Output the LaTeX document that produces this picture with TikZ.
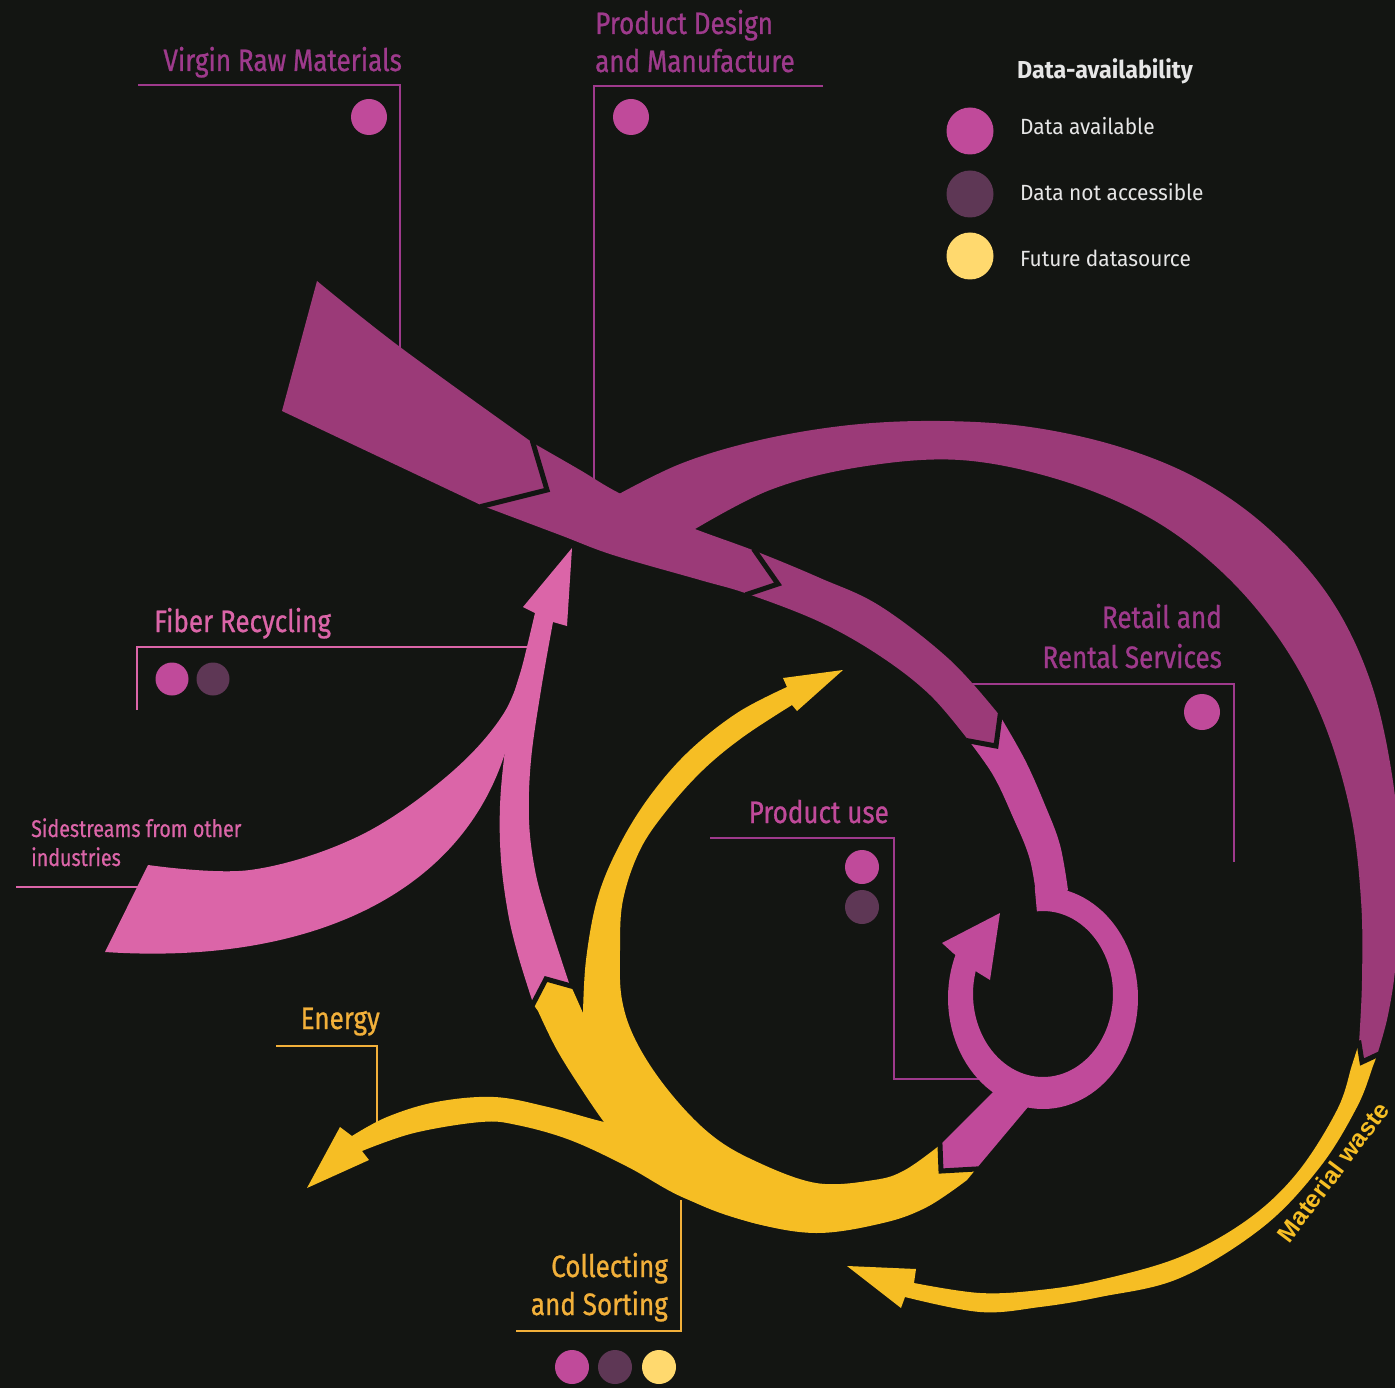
\documentclass[tikz,border=0pt]{standalone}
\usepackage{fontspec}
\setmainfont{Fira Sans}
\newfontfamily\labfont{Fira Sans}[FakeStretch=0.84, FakeBold=0.8]
\newfontfamily\sidefont{Fira Sans}[FakeStretch=0.82, FakeBold=0.6]
\newfontfamily\legfont{Fira Sans}[FakeStretch=0.95]
\newfontfamily\wastefont{Liberation Sans}

\definecolor{bg}{RGB}{19,21,18}
\definecolor{dmag}{RGB}{155,58,120}
\definecolor{pmag}{RGB}{192,74,154}
\definecolor{pinkflow}{RGB}{219,101,168}
\definecolor{yel}{RGB}{246,190,36}
\definecolor{dotdark}{RGB}{94,55,85}
\definecolor{dotfut}{RGB}{255,217,110}
\definecolor{labpurple}{RGB}{158,58,140}
\definecolor{laborange}{RGB}{242,176,58}
\definecolor{legtext}{RGB}{230,230,230}

\tikzset{
  lead/.style={line width=2.4pt},
  gapline/.style={draw=bg, line width=5pt, line cap=rect, line join=miter},
  lab/.style={inner sep=0pt, font=\labfont\fontsize{31}{36}\selectfont},
  smalllab/.style={inner sep=0pt, font=\sidefont\fontsize{24}{28}\selectfont},
  legitem/.style={inner sep=0pt, anchor=base west, text=legtext, font=\legfont\fontsize{22}{26}\selectfont},
  sm/.style={smooth, tension=0.6}
}

\begin{document}
\begin{tikzpicture}[x=1pt,y=-1pt]
\fill[bg] (0,0) rectangle (1395,1388);
\useasboundingbox (0,0) rectangle (1395,1388);

% ---------- leader lines ----------
\draw[lead, labpurple] (138,85) -- (400,85) -- (400,350);
\draw[lead, labpurple] (823,86) -- (594,86) -- (594,482);
\draw[lead, labpurple] (970,684) -- (1234,684) -- (1234,862);
\draw[lead, labpurple] (710,838) -- (894,838) -- (894,1079) -- (985,1079);
\draw[lead, pinkflow] (137,710) -- (137,647) -- (528,647);
\draw[lead, pinkflow] (16,887) -- (140,887);
\draw[lead, laborange] (276,1046) -- (377,1046) -- (377,1125);
\draw[lead, laborange] (681,1200) -- (681,1331) -- (516,1331);

% ---------- pink: sidestreams and fiber recycling return ----------
\fill[pinkflow] plot[sm] coordinates {(148,865) (250,870) (357,837) (446,777) (504,713) (528,647)}
  -- (540,640) -- (530,720) -- (506,750)
  .. controls (460,900) and (300,965) .. (105,952) -- cycle;
\fill[pinkflow] plot[sm] coordinates {(532,1000) (518,955) (508,913) (501,860) (500,806) (505,750) (513,699) (523,663) (535,613)}
  -- (523,607) -- (572,548) -- (567,626)
  -- plot[sm] coordinates {(553,622) (541,690) (531,760) (529,820) (535,870) (547,915) (569,983)} -- cycle;

% ---------- yellow: collecting loop, reuse arrow, energy, material waste ----------
\fill[yel] (533,1004) -- (546,979) -- (571,986) -- (583,1013)
  -- plot[sm] coordinates {(583,1013) (586,960) (597,900) (617,850) (647,800) (687,753) (737,713) (787,687)}
  -- (783,678) -- (843,670) -- (797,711)
  -- plot[sm] coordinates {(792,705) (743,737) (703,770) (667,810) (640,850) (623,900) (620,950) (622,1000) (637,1043) (668,1090) (709,1133) (753,1160) (816,1183) (874,1180) (905,1170) (940,1145)}
  -- (976,1169) -- (967,1180)
  -- plot[sm] coordinates {(967,1180) (927,1207) (883,1223) (816,1233) (750,1222) (690,1200) (640,1165) (610,1130) (584,1093) (557,1050) (538,1011)} -- cycle;
\fill[yel] plot[sm] coordinates {(640,1130) (600,1121) (548,1107) (494,1097) (436,1102) (387,1117) (352,1136)}
  -- (340,1127) -- (307,1188) -- (369,1160)
  -- plot[sm] coordinates {(362,1151) (414,1133) (481,1122) (517,1125) (570,1140) (628,1167) (682,1197) (750,1222) (793,1230)}
  -- (760,1190) -- cycle;
\fill[yel] plot[sm] coordinates {(1359,1043) (1352,1065) (1337,1110) (1297,1173) (1247,1220) (1180,1257) (1100,1280) (1040,1290) (980,1293) (914,1283)}
  -- (916,1269) -- (847,1266) -- (901,1308)
  -- plot[sm] coordinates {(905,1297) (980,1312) (1040,1307) (1100,1297) (1180,1278) (1263,1227) (1320,1167) (1357,1107) (1373,1066) (1377,1055)} -- cycle;

% ---------- magenta: product use loop ----------
\fill[pmag] plot[sm] coordinates {(1000,716) (1025,760) (1045,805) (1060,845) (1068,890)}
  -- (1052,902)
  -- plot[sm] coordinates {(1038,910) (1030,860) (1012,815) (993,775) (969,741)} -- cycle;
\fill[pmag] plot[domain=-95:204, samples=90, variable=\t] ({1043+95*cos(\t)},{998+111*sin(\t)})
  -- plot[domain=-95:204, samples=90, variable=\t] ({1043+70*cos(109-\t)},{994+83*sin(109-\t)}) -- cycle;
\fill[pmag] (953,953) -- (942,943) -- (1000,913) -- (990,980) -- (977,972) -- cycle;
\fill[pmag] (1000,1075) -- (993,1092) -- (940,1145) -- (941,1171) -- (976,1169) -- (1028,1107) -- (1030,1085) -- cycle;

% ---------- dark magenta: virgin input, production flow, large loop ----------
\fill[dmag] plot[sm] coordinates {(533,443) (580,470) (617,492) (680,523) (755,551) (820,578) (880,606) (950,660) (1000,716)}
  -- (996,746)
  -- plot[sm] coordinates {(969,741) (930,695) (880,656) (820,622) (748,594) (700,580) (613,555) (560,535) (483,506)} -- cycle;
\fill[dmag] plot[sm] coordinates {(608,500) (680,464) (760,440) (850,425) (940,421) (1030,427) (1120,447) (1200,480) (1270,530) (1330,598) (1370,680) (1392,775) (1400,870) (1396,960) (1388,1015) (1377,1055)}
  -- (1362,1062)
  -- plot[sm] coordinates {(1359,1043) (1362,980) (1361,900) (1350,810) (1322,718) (1280,640) (1222,572) (1150,518) (1060,480) (960,460) (860,467) (770,490) (690,532)} -- cycle;
\fill[dmag] plot[sm] coordinates {(317,281) (400,347) (533,443)} -- (547,490) -- (483,506) -- (282,411) -- cycle;

% ---------- separating notches between flow segments ----------
\draw[gapline] (533,443) -- (547,490) -- (483,506);
\draw[gapline] (755,551) -- (778,584) -- (748,594);
\draw[gapline] (1000,716) -- (996,746) -- (969,741);
\draw[gapline] (1359,1043) -- (1362,1062) -- (1377,1055);
\draw[gapline] (940,1145) -- (941,1171) -- (976,1169);
\draw[gapline] (533,1004) -- (546,979) -- (571,986);

% ---------- labels ----------
\node[lab, anchor=base east, text=labpurple] (virgin) at (402,71) {Virgin Raw Materials};
\node[lab, anchor=base west, text=labpurple] (design1) at (595,34) {Product Design};
\node[lab, anchor=base west, text=labpurple] (design2) at (595,72) {and Manufacture};
\node[lab, anchor=base east, text=labpurple] (retail1) at (1222,628) {Retail and};
\node[lab, anchor=base east, text=labpurple] (retail2) at (1222,668) {Rental Services};
\node[lab, anchor=base east, text=pmag] (use) at (889,823) {Product use};
\node[lab, anchor=base west, text=pinkflow] (fiber) at (154,632) {Fiber Recycling};
\node[smalllab, anchor=base west, text=pinkflow] (side1) at (31,837) {Sidestreams from other};
\node[smalllab, anchor=base west, text=pinkflow] (side2) at (31,866) {industries};
\node[lab, anchor=base east, text=laborange] (energy) at (380,1029) {Energy};
\node[lab, anchor=base east, text=laborange] (collect1) at (668,1277) {Collecting};
\node[lab, anchor=base east, text=laborange] (collect2) at (668,1315) {and Sorting};
\node[inner sep=0pt, rotate=53, text=yel, font=\wastefont\bfseries\fontsize{24.5}{28}\selectfont] (waste) at (1333,1172) {Material waste};

% ---------- data dots ----------
\fill[pmag] (369,117) circle[radius=18];
\fill[pmag] (631,117) circle[radius=18];
\fill[pmag] (1202,712) circle[radius=18];
\fill[pmag] (172,679) circle[radius=16.5];
\fill[dotdark] (213,679) circle[radius=16.5];
\fill[pmag] (862,867) circle[radius=17];
\fill[dotdark] (862,907) circle[radius=17];
\fill[pmag] (572,1367) circle[radius=17];
\fill[dotdark] (615,1367) circle[radius=17];
\fill[dotfut] (659,1367) circle[radius=17];

% ---------- legend ----------
\node[inner sep=0pt, anchor=base west, text=legtext, font=\legfont\bfseries\fontsize{24.5}{29}\selectfont] (legtitle) at (1017,79) {Data-availability};
\fill[pmag] (970,131) circle[radius=23.5];
\fill[dotdark] (970,194) circle[radius=23.5];
\fill[dotfut] (970,256) circle[radius=23.5];
\node[legitem] (leg1) at (1020,135) {Data available};
\node[legitem] (leg2) at (1020,201) {Data not accessible};
\node[legitem] (leg3) at (1020,267) {Future datasource};
\end{tikzpicture}
\end{document}
